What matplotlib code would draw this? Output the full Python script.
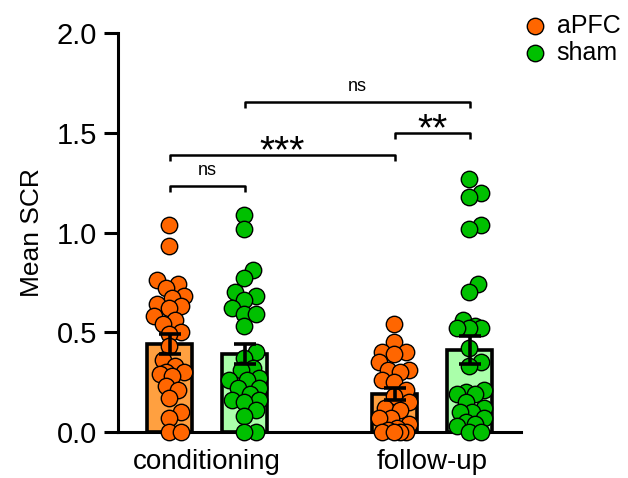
import numpy as np
import matplotlib
matplotlib.use("Agg")
import matplotlib.pyplot as plt

plt.rcParams['font.family'] = ['Liberation Sans', 'DejaVu Sans']

# values
phases = ["conditioning", "follow-up"]
groups = ["aPFC", "sham"]

cond_apfc = [1.04, 0.93, 0.76, 0.74, 0.72, 0.68, 0.67, 0.64, 0.63, 0.62, 0.58, 0.56,
             0.54, 0.50, 0.49, 0.43, 0.36, 0.33, 0.30, 0.30, 0.29, 0.28, 0.23, 0.21,
             0.17, 0.10, 0.07, 0.0, 0.0]
cond_sham = [1.09, 1.02, 0.81, 0.77, 0.70, 0.68, 0.66, 0.62, 0.59, 0.59, 0.53, 0.40,
             0.37, 0.32, 0.31, 0.27, 0.26, 0.26, 0.22, 0.22, 0.19, 0.16, 0.16, 0.15,
             0.11, 0.08, 0.0, 0.0]
fu_apfc = [0.54, 0.45, 0.40, 0.40, 0.39, 0.35, 0.31, 0.31, 0.30, 0.26, 0.25, 0.21,
           0.18, 0.15, 0.12, 0.11, 0.07, 0.07, 0.04, 0.02, 0.01, 0.0, 0.0, 0.0, 0.0]
fu_sham = [1.27, 1.20, 1.18, 1.04, 1.02, 0.74, 0.70, 0.56, 0.53, 0.52, 0.52, 0.52,
           0.42, 0.35, 0.33, 0.21, 0.20, 0.19, 0.19, 0.15, 0.12, 0.10, 0.10, 0.07,
           0.05, 0.04, 0.03, 0.0, 0.0]

means = [0.44, 0.39, 0.19, 0.41]
sems = [0.05, 0.05, 0.03, 0.07]

# significance: (left bar, right bar, height, label)
sig = [(0, 1, 1.233, "ns"), (0, 2, 1.388, "***"), (2, 3, 1.499, "**"), (1, 3, 1.654, "ns")]

positions = [0, 1, 3, 4]
dot_colors = ["#FF6600", "#00C000"]
bar_colors = ["#FFA040", "#AAFFAA"]

W, H = 628, 478
fig = plt.figure(figsize=(W / 100, H / 100), dpi=100)
ax = fig.add_axes([118 / W, 1 - 432 / H, (521 - 118) / W, (432 - 33) / H])
ax.set_xlim(-0.69, 4.68)
ax.set_ylim(0, 2.0)

px_x = (521 - 118) / (4.68 + 0.69)
px_y = (432 - 33) / 2.0
D = 16.0


def spread(vals, max_off=16.0, step=3.0, min_gap=0.7 * D):
    order = np.argsort(vals)
    offs = np.zeros(len(vals))
    placed = []
    cands = sorted(np.arange(-max_off, max_off + 0.01, step), key=abs)
    for i in order:
        y = vals[i] * px_y
        best, bestd = 0.0, -1.0
        for c in cands:
            d = min([np.hypot(c - px, y - py) for px, py in placed] or [np.inf])
            if d >= min_gap:
                best = c
                break
            if d > bestd:
                best, bestd = c, d
        placed.append((best, y))
        offs[i] = best / px_x
    return offs


data = [cond_apfc, cond_sham, fu_apfc, fu_sham]
handles = []
for k, (pos, vals) in enumerate(zip(positions, data)):
    g = k % 2
    vals = np.array(vals)
    ax.bar(pos, means[k], width=0.6, color=bar_colors[g], edgecolor="black",
           linewidth=2.6, zorder=1)
    sc = ax.scatter(pos + spread(vals), vals, s=140, color=dot_colors[g],
                    edgecolor="black", linewidth=1.0, zorder=3, clip_on=False)
    if k < 2:
        handles.append(sc)
    ax.errorbar(pos, means[k], yerr=sems[k], color="black", elinewidth=2.6,
                capsize=8, capthick=2.6, zorder=4)

for a, b, h, lab in sig:
    xa, xb = positions[a], positions[b]
    ax.plot([xa, xa, xb, xb], [h - 0.028, h, h, h - 0.028], color="black",
            lw=1.8, solid_capstyle="butt")
    if lab == "ns":
        ax.text((xa + xb) / 2, h + 0.035, lab, ha="center", va="bottom", fontsize=13)
    else:
        ax.text((xa + xb) / 2, h - 0.038, lab, ha="center", va="baseline", fontsize=28)

for side in ["top", "right"]:
    ax.spines[side].set_visible(False)
for side in ["left", "bottom"]:
    ax.spines[side].set_linewidth(2.2)

ax.set_yticks([0.0, 0.5, 1.0, 1.5, 2.0])
ax.set_yticklabels(["0.0", "0.5", "1.0", "1.5", "2.0"])
ax.set_xticks([0.5, 3.5])
ax.set_xticklabels(phases)
ax.tick_params(axis="y", length=10, width=2.2, labelsize=21, pad=5)
ax.tick_params(axis="x", length=0, labelsize=20, pad=12)
ax.set_ylabel("Mean SCR", fontsize=19, labelpad=9)

fig.legend(handles, groups, loc="upper left", bbox_to_anchor=(524 / W, 1 - 14 / H),
           frameon=False, fontsize=18, handlelength=0.9, handletextpad=0.4,
           labelspacing=0.1, borderpad=0, borderaxespad=0)

fig.savefig("out.png", dpi=100)
